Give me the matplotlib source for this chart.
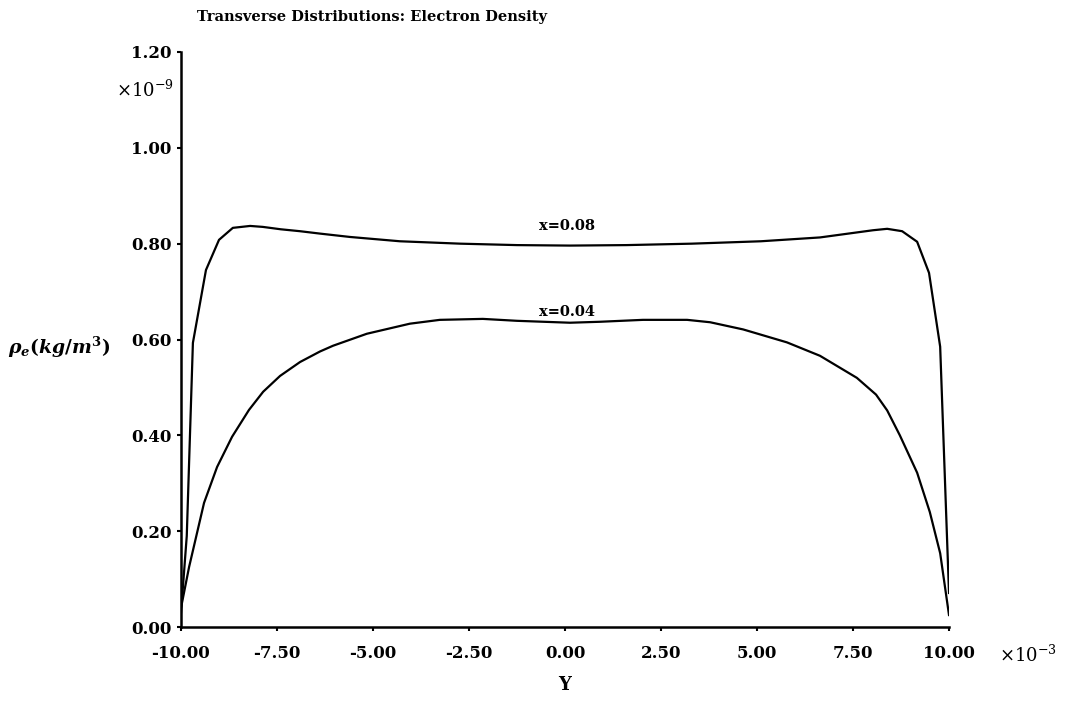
import matplotlib
matplotlib.use("Agg")
import matplotlib.pyplot as plt
from matplotlib.ticker import FormatStrFormatter

plt.rcParams['axes.unicode_minus'] = False
plt.rcParams['mathtext.fontset'] = 'custom'
plt.rcParams['mathtext.it'] = 'DejaVu Serif:italic:bold'
plt.rcParams['mathtext.rm'] = 'DejaVu Serif:bold'
plt.rcParams['mathtext.bf'] = 'DejaVu Serif:bold'
plt.rcParams['mathtext.sf'] = 'DejaVu Serif'

# Y in units of 1e-3, density in units of 1e-9
y_08 = [-10.0, -9.85, -9.69, -9.35, -9.01, -8.65, -8.2, -7.87, -7.4, -6.9, -6.38,
        -5.6, -4.3, -2.73, -1.25, 0.13, 1.6, 3.3, 5.1, 6.64, 8.02, 8.39, 8.78,
        9.17, 9.48, 9.77, 10.0]
rho_08 = [0.03, 0.19, 0.593, 0.745, 0.808, 0.833, 0.837, 0.835, 0.830, 0.826, 0.821,
          0.814, 0.805, 0.800, 0.797, 0.796, 0.797, 0.800, 0.805, 0.813, 0.828, 0.831,
          0.826, 0.804, 0.739, 0.585, 0.071]

y_04 = [-10.0, -9.79, -9.4, -9.06, -8.67, -8.23, -7.86, -7.42, -6.9, -6.38, -6.04,
        -5.16, -4.04, -3.26, -2.14, -1.25, 0.13, 0.91, 2.03, 3.18, 3.78, 4.64, 5.78,
        6.64, 7.6, 8.1, 8.39, 8.72, 9.17, 9.5, 9.77, 10.0]
rho_04 = [0.04, 0.125, 0.259, 0.334, 0.397, 0.453, 0.491, 0.524, 0.553, 0.575, 0.587,
          0.612, 0.633, 0.641, 0.643, 0.639, 0.635, 0.637, 0.641, 0.641, 0.636, 0.621,
          0.594, 0.566, 0.520, 0.485, 0.452, 0.400, 0.322, 0.240, 0.154, 0.025]

xticks = [-10.0, -7.5, -5.0, -2.5, 0.0, 2.5, 5.0, 7.5, 10.0]
yticks = [0.0, 0.2, 0.4, 0.6, 0.8, 1.0, 1.2]

serif_bold = dict(family='DejaVu Serif', weight='bold')

fig = plt.figure(figsize=(10.66, 7.03), dpi=100)
ax = fig.add_axes([181/1066, 1 - 627/703, (949 - 181)/1066, (627 - 52)/703])

ax.plot(y_08, rho_08, color='black', lw=1.6)
ax.plot(y_04, rho_04, color='black', lw=1.6)

ax.set_xlim(-10, 10)
ax.set_ylim(0, 1.2)
ax.set_xticks(xticks)
ax.set_yticks(yticks)
ax.xaxis.set_major_formatter(FormatStrFormatter('%.2f'))
ax.yaxis.set_major_formatter(FormatStrFormatter('%.2f'))

for s in ['top', 'right']:
    ax.spines[s].set_visible(False)
for s in ['left', 'bottom']:
    ax.spines[s].set_linewidth(1.8)
ax.tick_params(axis='both', direction='out', length=3, width=1.5)
ax.tick_params(axis='x', pad=10)
ax.tick_params(axis='y', pad=4)
for lab in ax.get_xticklabels() + ax.get_yticklabels():
    lab.set_fontfamily('DejaVu Serif')
    lab.set_fontweight('bold')
    lab.set_fontsize(12)

ax.text(0.05, 0.823, 'x=0.08', ha='center', va='bottom', fontsize=10.5, **serif_bold)
ax.text(0.05, 0.643, 'x=0.04', ha='center', va='bottom', fontsize=10.5, **serif_bold)

fig.text(197/1066, 1 - 17/703, 'Transverse Distributions: Electron Density',
         ha='left', va='center', fontsize=10.5, **serif_bold)
fig.text(8/1066, 1 - 347/703, r'$\rho_e(kg/m^3)$', ha='left', va='center', fontsize=13.5)
fig.text(565/1066, 1 - 685/703, 'Y', ha='center', va='center', fontsize=13, **serif_bold)
fig.text(145/1066, 1 - 90/703, r'$\mathsf{\times10^{-9}}$', ha='center', va='center',
         fontsize=13)
fig.text(1028/1066, 1 - 655/703, r'$\mathsf{\times10^{-3}}$', ha='center', va='center',
         fontsize=13)

fig.savefig('out.png', dpi=100)
